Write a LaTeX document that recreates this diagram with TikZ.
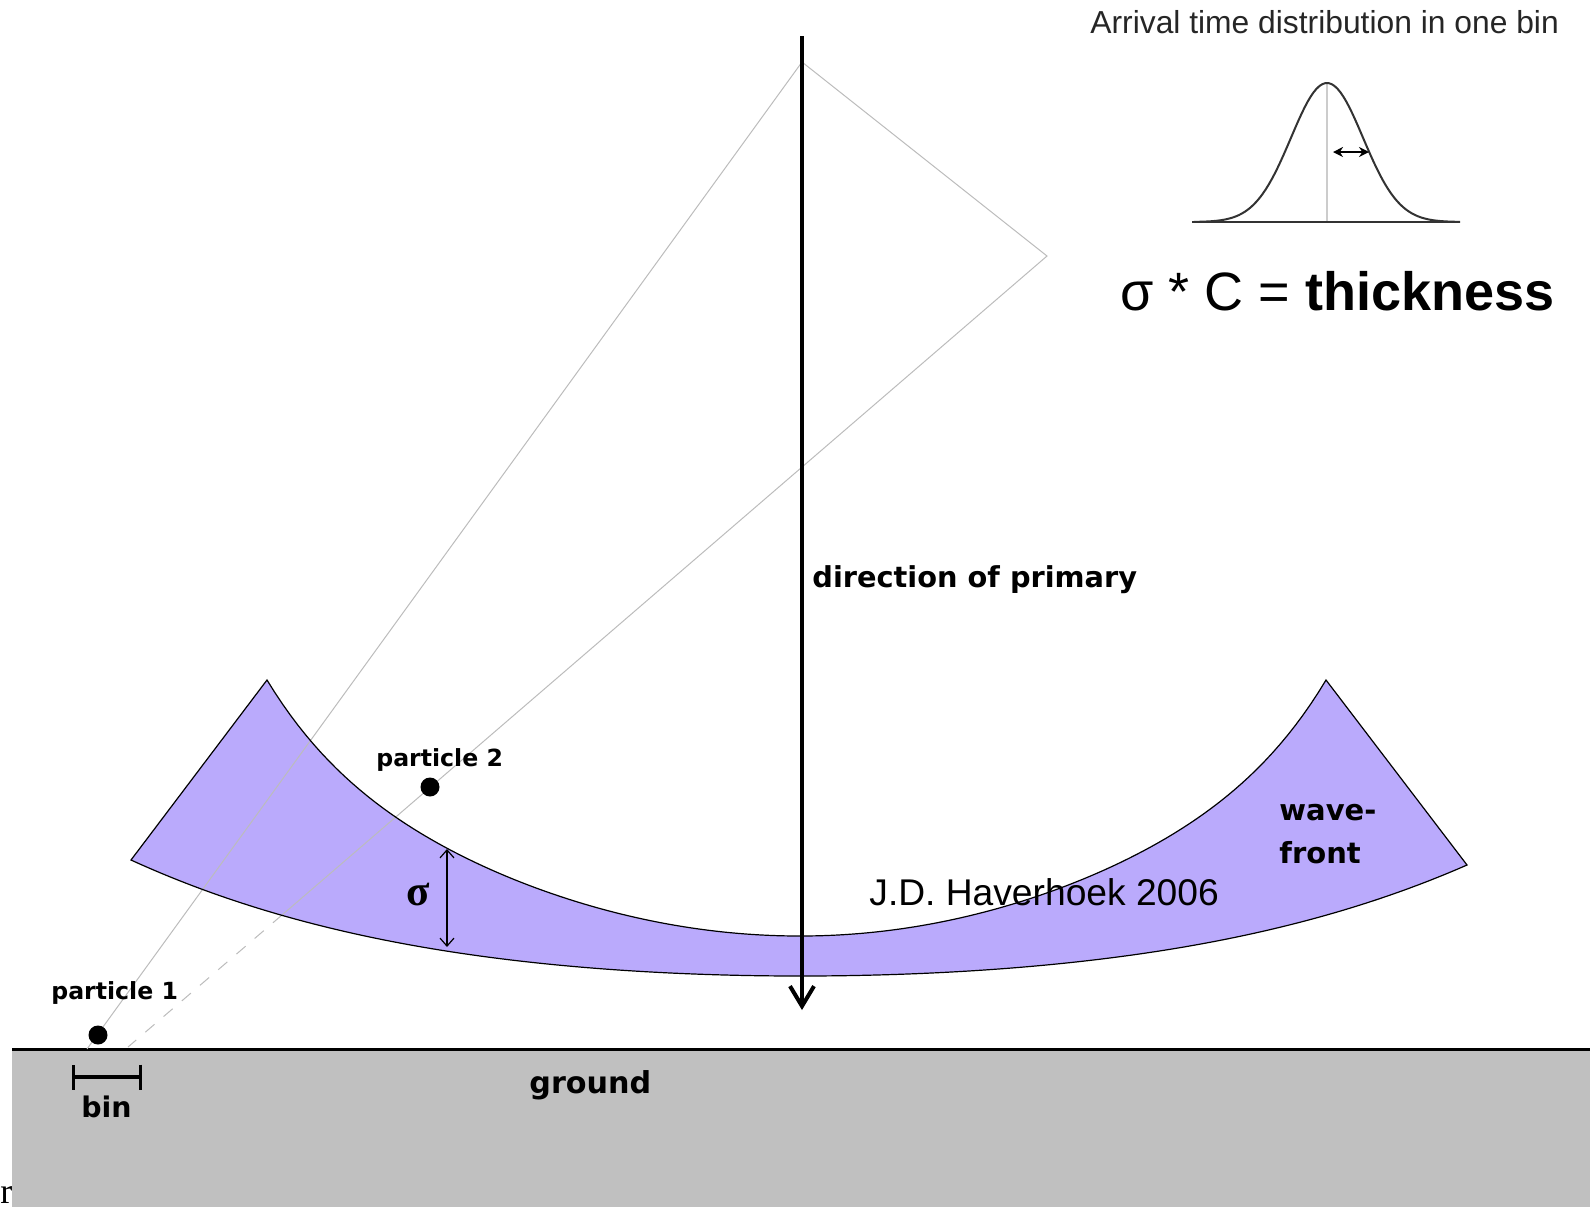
\documentclass[tikz,border=0pt]{standalone}
\usepackage{fontspec}
\setmainfont{Liberation Sans}
\newfontfamily\lblfont{DejaVu Sans}
\newfontfamily\timesfont{Liberation Serif}
\usetikzlibrary{arrows.meta}
\definecolor{wavefill}{RGB}{186,170,252}
\definecolor{groundgray}{RGB}{192,192,192}
\definecolor{rayGray}{RGB}{188,188,188}
\tikzset{
  lbl/.style={inner sep=0pt, anchor=base west, font=\lblfont\bfseries\fontsize{14.5}{17}\selectfont},
  plbl/.style={inner sep=0pt, anchor=base west, font=\lblfont\bfseries\fontsize{11.8}{14}\selectfont},
  dot/.style={circle, fill=black, inner sep=0pt, minimum size=9.5pt},
  ray/.style={draw=rayGray, line width=0.5pt},
  outline/.style={draw=black, line width=0.6pt},
  declare function={uq(\t,\w)=(\t/\w)*(\t/\w);
    wf(\t,\w)=195*uq(\t,\w)+61*uq(\t,\w)^4;
    lf(\t,\w,\a,\b)=\a*uq(\t,\w)+\b*uq(\t,\w)^2;}
}
\begin{document}
\begin{tikzpicture}[x=0.5pt,y=-0.5pt]
\useasboundingbox (0,0) rectangle (1590,1207);

% ground
\fill[groundgray] (12,1049) rectangle (1590,1207);
\coordinate (gl1) at (12,1049);
\coordinate (gl2) at (1590,1049);
\draw[line width=1.5pt] (gl1) -- (gl2);

% wavefront fill
\fill[wavefill] plot[domain=-533:0, samples=70] ({800+\x},{936-wf(\x,533)})
  -- plot[domain=0:526, samples=70] ({800+\x},{936-wf(\x,526)})
  -- plot[domain=667:0, samples=70] ({800+\x},{976-lf(\x,667,76,35)})
  -- plot[domain=0:-669, samples=70] ({800+\x},{976-lf(\x,669,79,37)}) -- cycle;

% gray rays
\coordinate (A) at (802,62);
\coordinate (R) at (1047,256);
\coordinate (L) at (87,1049);
\coordinate (M) at (282,915);
\coordinate (F) at (128,1047);
\draw[ray] (L) -- (A) -- (R) -- (M);
\draw[ray, dash pattern=on 6pt off 6pt] (M) -- (F);

% wavefront outline
\draw[outline] plot[domain=-533:0, samples=70] ({800+\x},{936-wf(\x,533)})
  -- plot[domain=0:526, samples=70] ({800+\x},{936-wf(\x,526)})
  -- plot[domain=667:0, samples=70] ({800+\x},{976-lf(\x,667,76,35)})
  -- plot[domain=0:-669, samples=70] ({800+\x},{976-lf(\x,669,79,37)}) -- cycle;

% sigma arrow in band
\coordinate (s1) at (447,849);
\coordinate (s2) at (447,947);
\draw[line width=0.6pt, {Straight Barb[length=4pt,width=7pt]}-{Straight Barb[length=4pt,width=7pt]}] (s1) -- (s2);
\node[inner sep=0pt, anchor=base west, font=\timesfont\bfseries\fontsize{21.5}{24}\selectfont] (sig) at (406,905) {σ};

% direction of primary
\coordinate (top) at (802,36);
\coordinate (tip) at (802,1010);
\draw[line width=2pt, -{Straight Barb[length=10pt,width=12pt]}] (top) -- (tip);
\node[lbl, font=\lblfont\bfseries\fontsize{14.4}{17}\selectfont] (dir) at (812,587) {direction of primary};

% particles
\node[dot] (p1) at (98,1035) {};
\node[dot] (p2) at (430,787) {};
\node[plbl] (p1l) at (51,999) {particle 1};
\node[plbl] (p2l) at (376,766) {particle 2};

% bin
\coordinate (b1) at (72,1077);
\coordinate (b2) at (142,1077);
\draw[line width=1.6pt, {Bar[width=12.5pt]}-{Bar[width=12.5pt]}] (b1) -- (b2);
\node[lbl, font=\lblfont\bfseries\fontsize{14.2}{17}\selectfont] (bin) at (81,1117) {bin};

% ground label
\node[lbl, font=\lblfont\bfseries\fontsize{15.1}{17}\selectfont] (ground) at (529,1093) {ground};

% wave-front label
\node[lbl] (wave1) at (1279,820) {wave-};
\node[lbl] (wave2) at (1279,863) {front};

% author
\node[inner sep=0pt, anchor=base west, font=\fontsize{18.6}{21}\selectfont] (auth) at (869,905) {J.D. Haverhoek 2006};

% top right distribution
\node[inner sep=0pt, anchor=base west, text=black!85, font=\fontsize{15.9}{18}\selectfont] (arr) at (1090,33) {Arrival time distribution in one bin};
\coordinate (g0) at (1192,222);
\coordinate (g1) at (1460,222);
\coordinate (gc0) at (1327,222);
\coordinate (gc1) at (1327,83);
\draw[black!20, line width=0.6pt] (gc0) -- (gc1);
\draw[black!80, line width=1pt] (g0) -- (g1);
\draw[black!80, line width=1pt] plot[domain=-133:133, samples=90] ({1327+\x}, {222-139*exp(-0.5*(\x/36)*(\x/36))});
\coordinate (w0) at (1333,152);
\coordinate (w1) at (1369,152);
\draw[line width=1.1pt, {Stealth[length=5pt,width=5pt]}-{Stealth[length=5pt,width=5pt]}] (w0) -- (w1);
\node[inner sep=0pt, anchor=base west, font=\fontsize{27}{31}\selectfont] (eq) at (1120,310) {σ * C = \textbf{thickness}};

% stray letter
\node[inner sep=0pt, anchor=base west, font=\timesfont\fontsize{18}{20}\selectfont] (rr) at (0,1203) {r};
\end{tikzpicture}
\end{document}
